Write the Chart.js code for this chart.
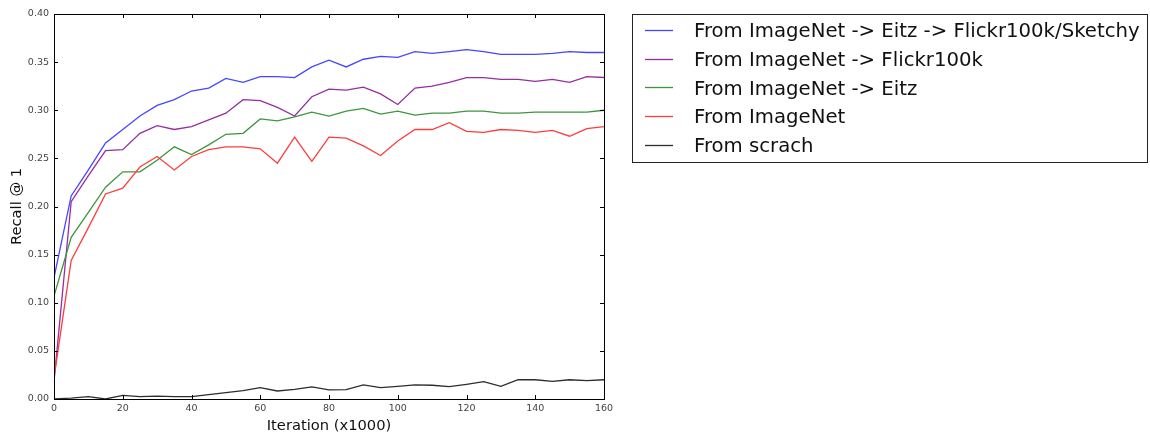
<!DOCTYPE html>
<html>
<head>
<meta charset="utf-8">
<script src="https://cdn.jsdelivr.net/npm/chart.js@4.4.1/dist/chart.umd.min.js"></script>
<style>
  body { margin: 0; background: #fff; }
  #wrap { width: 1150px; height: 437px; }
</style>
</head>
<body>
<div id="wrap"><canvas id="recall-chart" width="1150" height="437"></canvas></div>
<script>
// iterations (x1000)
const iterations = [0, 5, 10, 15, 20, 25, 30, 35, 40, 45, 50, 55, 60, 65, 70, 75, 80,
  85, 90, 95, 100, 105, 110, 115, 120, 125, 130, 135, 140, 145, 150, 155, 160];

// recall @ 1
const eitzFlickrSketchy = [0.126, 0.211, 0.238, 0.266, 0.280, 0.294, 0.305, 0.311, 0.320, 0.323, 0.333, 0.329, 0.335, 0.335, 0.334, 0.345, 0.352,
  0.345, 0.353, 0.356, 0.355, 0.361, 0.359, 0.361, 0.363, 0.361, 0.358, 0.358, 0.358, 0.359, 0.361, 0.360, 0.360];
const flickr100k = [0.018, 0.205, 0.232, 0.258, 0.259, 0.276, 0.284, 0.280, 0.283, 0.290, 0.297, 0.311, 0.310, 0.303, 0.294, 0.314, 0.322,
  0.321, 0.324, 0.317, 0.306, 0.323, 0.325, 0.329, 0.334, 0.334, 0.332, 0.332, 0.330, 0.332, 0.329, 0.335, 0.334];
const eitz = [0.107, 0.168, 0.194, 0.220, 0.236, 0.236, 0.248, 0.262, 0.254, 0.264, 0.275, 0.276, 0.291, 0.289, 0.293, 0.298, 0.294,
  0.299, 0.302, 0.296, 0.299, 0.295, 0.297, 0.297, 0.299, 0.299, 0.297, 0.297, 0.298, 0.298, 0.298, 0.298, 0.300];
const imagenet = [0.022, 0.144, 0.178, 0.213, 0.219, 0.241, 0.252, 0.238, 0.252, 0.259, 0.262, 0.262, 0.260, 0.245, 0.272, 0.247, 0.272,
  0.271, 0.263, 0.253, 0.268, 0.280, 0.280, 0.287, 0.278, 0.277, 0.280, 0.279, 0.277, 0.279, 0.273, 0.281, 0.283];
const scratch = [0.000, 0.001, 0.0024, 0.000, 0.0038, 0.0024, 0.003, 0.0024, 0.0024, 0.0045, 0.0066, 0.0086, 0.0118, 0.0083, 0.010, 0.0125, 0.0094,
  0.0097, 0.0146, 0.0118, 0.0131, 0.0146, 0.0143, 0.0128, 0.0152, 0.018, 0.0131, 0.020, 0.020, 0.0183, 0.020, 0.019, 0.020];

const seriesNames = [
  'From ImageNet -> Eitz -> Flickr100k/Sketchy',
  'From ImageNet -> Flickr100k',
  'From ImageNet -> Eitz',
  'From ImageNet',
  'From scrach'
];
const seriesValues = [eitzFlickrSketchy, flickr100k, eitz, imagenet, scratch];
const seriesColors = ['rgb(70,70,255)', 'rgb(150,45,160)', 'rgb(60,150,60)', 'rgb(255,60,60)', 'rgb(45,45,45)'];

const xTicks = [0, 20, 40, 60, 80, 100, 120, 140, 160];
const yTicks = [0, 0.05, 0.1, 0.15, 0.2, 0.25, 0.3, 0.35, 0.4];

const FONT = 'DejaVu Sans';

// frame + inward ticks like matplotlib, and the boxed legend on the right
const framePlugin = {
  id: 'frame',
  afterDraw(chart) {
    const ctx = chart.ctx;
    const a = chart.chartArea;
    const xs = chart.scales.x, ys = chart.scales.y;
    ctx.save();
    ctx.strokeStyle = '#000';
    ctx.lineWidth = 1;
    ctx.strokeRect(Math.round(a.left) + 0.5, Math.round(a.top) + 0.5,
      Math.round(a.right - a.left), Math.round(a.bottom - a.top));
    ctx.beginPath();
    xTicks.forEach(v => {
      const px = Math.round(xs.getPixelForValue(v)) + 0.5;
      ctx.moveTo(px, a.bottom); ctx.lineTo(px, a.bottom - 4);
      ctx.moveTo(px, a.top); ctx.lineTo(px, a.top + 4);
    });
    yTicks.forEach(v => {
      const py = Math.round(ys.getPixelForValue(v)) + 0.5;
      ctx.moveTo(a.left, py); ctx.lineTo(a.left + 4, py);
      ctx.moveTo(a.right, py); ctx.lineTo(a.right - 4, py);
    });
    ctx.stroke();

    // legend
    const bx = 632.5, by = 14.5, bw = 515, bh = 148;
    ctx.fillStyle = '#fff';
    ctx.fillRect(bx, by, bw, bh);
    ctx.strokeStyle = '#222';
    ctx.strokeRect(bx, by, bw, bh);
    ctx.font = '19.7px "' + FONT + '"';
    ctx.textBaseline = 'middle';
    chart.data.datasets.forEach((ds, i) => {
      const cy = 30 + i * 28.7;
      ctx.strokeStyle = ds.borderColor;
      ctx.lineWidth = 1.3;
      ctx.beginPath();
      ctx.moveTo(645, Math.round(cy) + 0.5);
      ctx.lineTo(673, Math.round(cy) + 0.5);
      ctx.stroke();
      ctx.fillStyle = '#111';
      ctx.fillText(ds.label, 694, cy + 2);
    });
    ctx.restore();
  }
};

const ctx = document.getElementById('recall-chart').getContext('2d');
const chart = new Chart(ctx, {
  type: 'line',
  data: {
    datasets: seriesValues.map((vals, i) => ({
      label: seriesNames[i],
      data: vals.map((v, j) => ({ x: iterations[j], y: v })),
      borderColor: seriesColors[i],
      backgroundColor: seriesColors[i],
      borderWidth: 1.3,
      pointRadius: 0,
      tension: 0,
      fill: false,
      order: 5 - i
    }))
  },
  options: {
    responsive: false,
    animation: false,
    events: [],
    layout: { padding: { left: 0, top: 14, right: 546, bottom: 0 } },
    plugins: { legend: { display: false }, tooltip: { enabled: false } },
    scales: {
      x: {
        type: 'linear', min: 0, max: 160,
        afterFit: s => { s.height = 38; },
        afterBuildTicks: s => { s.ticks = xTicks.map(v => ({ value: v })); },
        grid: { display: false, drawTicks: false },
        border: { display: false },
        ticks: { color: '#444', font: { family: FONT, size: 9.5 }, padding: 4, maxRotation: 0 },
        title: { display: true, text: 'Iteration (x1000)', color: '#111',
          font: { family: FONT, size: 14.7 }, padding: { top: 0, bottom: 2 } }
      },
      y: {
        min: 0, max: 0.4,
        afterFit: s => { s.width = 54; },
        afterBuildTicks: s => { s.ticks = yTicks.map(v => ({ value: v })); },
        grid: { display: false, drawTicks: false },
        border: { display: false },
        ticks: { color: '#444', font: { family: FONT, size: 9.5 }, padding: 5,
          callback: v => v.toFixed(2) },
        title: { display: true, text: 'Recall @ 1', color: '#111',
          font: { family: FONT, size: 14.7 }, padding: { top: 8, bottom: 0 } }
      }
    }
  },
  plugins: [framePlugin]
});
</script>
</body>
</html>
